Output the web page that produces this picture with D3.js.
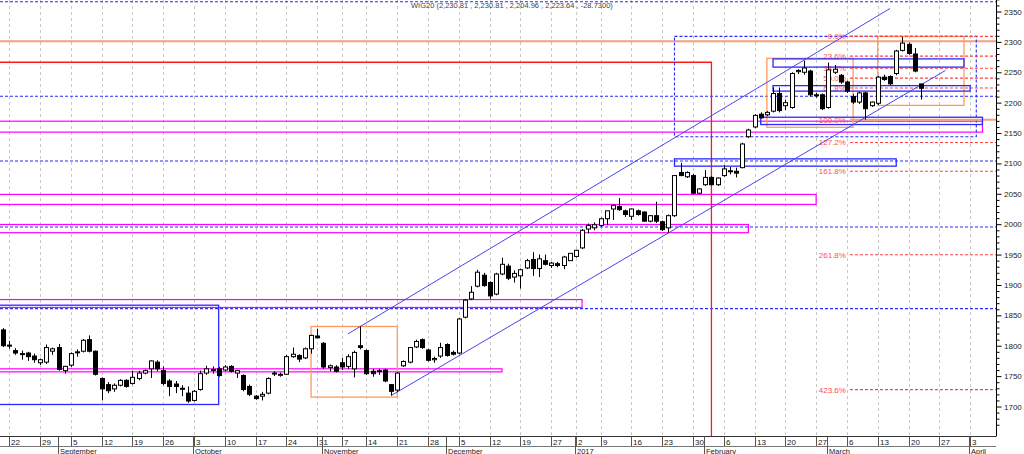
<!DOCTYPE html>
<html>
<head>
<meta charset="utf-8">
<script src="https://cdn.jsdelivr.net/npm/d3@7"></script>
<style>
  body { margin: 0; background: #fff; }
  svg text { font-family: "Liberation Sans", Arial, sans-serif; }
</style>
</head>
<body>
<svg id="plot" width="1024" height="454"></svg>
<script>
// trading sessions shown on the chart (incl. the empty days at the right edge)
let days = [
  "2016-08-19","2016-08-22","2016-08-23","2016-08-24","2016-08-25","2016-08-26","2016-08-29","2016-08-30","2016-08-31",
  "2016-09-01","2016-09-02","2016-09-05","2016-09-06","2016-09-07","2016-09-08","2016-09-09","2016-09-12","2016-09-13",
  "2016-09-14","2016-09-15","2016-09-16","2016-09-19","2016-09-20","2016-09-21","2016-09-22","2016-09-23","2016-09-26",
  "2016-09-27","2016-09-28","2016-09-29","2016-09-30","2016-10-03","2016-10-04","2016-10-05","2016-10-06","2016-10-07",
  "2016-10-10","2016-10-11","2016-10-12","2016-10-13","2016-10-14","2016-10-17","2016-10-18","2016-10-19","2016-10-20",
  "2016-10-21","2016-10-24","2016-10-25","2016-10-26","2016-10-27","2016-10-28","2016-10-31","2016-11-02","2016-11-03",
  "2016-11-04","2016-11-07","2016-11-08","2016-11-09","2016-11-10","2016-11-14","2016-11-15","2016-11-16","2016-11-17",
  "2016-11-18","2016-11-21","2016-11-22","2016-11-23","2016-11-24","2016-11-25","2016-11-28","2016-11-29","2016-11-30",
  "2016-12-01","2016-12-02","2016-12-05","2016-12-06","2016-12-07","2016-12-08","2016-12-09","2016-12-12","2016-12-13",
  "2016-12-14","2016-12-15","2016-12-16","2016-12-19","2016-12-20","2016-12-21","2016-12-22","2016-12-23","2016-12-27",
  "2016-12-28","2016-12-29","2016-12-30","2017-01-02","2017-01-03","2017-01-04","2017-01-05","2017-01-09","2017-01-10",
  "2017-01-11","2017-01-12","2017-01-13","2017-01-16","2017-01-17","2017-01-18","2017-01-19","2017-01-20","2017-01-23",
  "2017-01-24","2017-01-25","2017-01-26","2017-01-27","2017-01-30","2017-01-31","2017-02-01","2017-02-02","2017-02-03",
  "2017-02-06","2017-02-07","2017-02-08","2017-02-09","2017-02-10","2017-02-13","2017-02-14","2017-02-15","2017-02-16",
  "2017-02-17","2017-02-20","2017-02-21","2017-02-22","2017-02-23","2017-02-24","2017-02-27","2017-02-28","2017-03-01",
  "2017-03-02","2017-03-03","2017-03-06","2017-03-07","2017-03-08","2017-03-09","2017-03-10","2017-03-13","2017-03-14",
  "2017-03-15","2017-03-16","2017-03-17","2017-03-20","2017-03-21","2017-03-22","2017-03-23","2017-03-24","2017-03-27",
  "2017-03-28","2017-03-29","2017-03-30","2017-03-31","2017-04-03","2017-04-04","2017-04-05","2017-04-06","2017-04-07"
];

// WIG20 daily candles, one value per session
let open = [1826,1801,1792,1787,1788,1783,1772,1773,1791,1797,1759,1768,1789,1791,1810,1791,1746,1736,1729,1735,
  1743,1738,1746,1755,1762,1773,1759,1742,1737,1730,1722,1710,1728,1755,1760,1762,1760,1766,1755,1751,
  1733,1717,1717,1722,1754,1752,1753,1782,1784,1780,1795,1816,1804,1764,1765,1772,1766,1762,1800,1792,
  1758,1759,1760,1736,1727,1767,1773,1798,1810,1793,1777,1783,1802,1789,1788,1847,1877,1898,1916,1904,
  1885,1918,1931,1913,1915,1928,1942,1927,1940,1932,1935,1932,1940,1947,1961,1992,1994,1998,2009,2025,
  2029,2022,2013,2022,2020,2005,2014,2004,1994,2014,2085,2078,2080,2051,2065,2077,2065,2080,2088,2087,
  2093,2144,2160,2181,2180,2186,2215,2195,2192,2251,2250,2252,2213,2213,2192,2250,2245,2234,2210,2201,
  2216,2195,2199,2242,2243,2248,2286,2296,2280,2230.81];
let high = [1829,1808,1796,1792,1790,1787,1779,1802,1797,1803,1767,1789,1794,1811,1817,1792,1748,1740,1738,1745,
  1745,1759,1759,1761,1776,1776,1766,1745,1742,1735,1733,1727,1759,1767,1766,1765,1768,1768,1760,1753,
  1736,1719,1724,1748,1758,1756,1785,1797,1786,1797,1818,1828,1806,1769,1768,1780,1786,1792,1832,1794,
  1762,1762,1762,1737,1757,1776,1798,1810,1812,1795,1782,1805,1804,1792,1846,1877,1898,1925,1920,1906,
  1920,1945,1935,1924,1927,1943,1954,1950,1950,1938,1938,1948,1950,1958,1992,2001,2003,2011,2011,2032,
  2043,2024,2026,2024,2021,2015,2037,2006,2016,2080,2101,2087,2083,2059,2089,2079,2077,2097,2094,2093,
  2134,2157,2181,2184,2186,2225,2225,2205,2250,2255,2269,2254,2216,2215,2266,2262,2247,2236,2214,2218,
  2218,2202,2244,2246,2245,2287,2308,2299,2290,2230.81];
let low = [1798,1795,1785,1777,1775,1772,1768,1770,1785,1759,1754,1765,1782,1789,1789,1751,1710,1722,1724,1733,
  1731,1736,1743,1753,1747,1758,1735,1717,1722,1717,1706,1708,1726,1752,1754,1749,1758,1756,1747,1725,
  1717,1711,1710,1720,1750,1749,1752,1780,1773,1778,1787,1812,1762,1758,1756,1760,1762,1748,1794,1752,
  1749,1752,1740,1718,1724,1765,1771,1796,1795,1774,1772,1780,1782,1784,1786,1845,1875,1896,1897,1877,
  1883,1916,1908,1904,1894,1926,1915,1913,1932,1928,1929,1926,1940,1945,1959,1985,1990,1995,1998,2007,
  2022,2012,2007,2014,2004,2003,2002,1989,1986,2012,2079,2076,2050,2050,2063,2064,2063,2078,2082,2077,
  2092,2142,2158,2174,2178,2184,2184,2188,2190,2247,2246,2210,2208,2188,2190,2247,2231,2216,2198,2198,
  2172,2193,2196,2236,2229,2245,2284,2279,2250,2204.96];
let close = [1800,1800,1788,1786,1782,1777,1777,1797,1795,1761,1766,1787,1790,1809,1791,1753,1729,1726,1735,1743,
  1733,1748,1755,1759,1775,1762,1738,1733,1733,1729,1709,1725,1754,1762,1761,1751,1765,1758,1759,1728,
  1720,1713,1720,1746,1755,1753,1782,1786,1778,1795,1817,1813,1765,1767,1758,1765,1782,1789,1797,1754,
  1754,1759,1742,1725,1755,1774,1797,1807,1797,1776,1779,1797,1784,1786,1844,1875,1888,1921,1899,1882,
  1918,1934,1911,1919,1925,1940,1927,1943,1934,1936,1932,1946,1952,1957,1990,1998,1999,2009,2022,2031,
  2024,2016,2025,2016,2005,2014,2005,1991,2014,2080,2080,2085,2051,2058,2077,2065,2076,2091,2088,2084,
  2132,2155,2179,2175,2184,2215,2187,2200,2248,2253,2257,2213,2213,2190,2254,2255,2234,2219,2201,2216,
  2190,2201,2242,2238,2231,2285,2298,2281,2252,2223.64];

let yTicks = [1700,1750,1800,1850,1900,1950,2000,2050,2100,2150,2200,2250,2300,2350];
let title = "WIG20 (2,230.81 , 2,230.81 , 2,204.96 , 2,223.64 , -28.7300)";

// drawn studies: horizontal levels, boxes, channel, fibonacci
let dottedLevels = [2366, 2210.5, 2104, 1995.5, 1861];
let magentaBands = [[1762, 1757], [1876, 1863], [1999.5, 1986], [2049, 2032.5], [2169.5, 2151.5]];
let magentaEnds = ["2016-12-14", "2017-01-03", "2017-02-10", "2017-02-27", "2017-04-05"];
let blueBoxes = [
  ["2016-08-01", "2016-10-07", 1866.7, 1703.3],
  ["2017-01-25", "2017-03-16", 2107.5, 2095.5],
  ["2017-02-14", "2017-04-05", 2176, 2164],
  ["2017-02-16", "2017-03-31", 2272, 2258.5],
  ["2017-02-16", "2017-04-03", 2228, 2219]
];
let orangeBoxes = [
  ["2016-10-28", "2016-11-21", 1831.7, 1715.5],
  ["2017-02-15", "2017-03-07", 2273, 2159.5],
  ["2017-03-13", "2017-03-31", 2309, 2195.5]
];
let dottedBox = ["2017-01-25", "2017-04-04", 2309, 2144];
let redLine = ["2017-02-02", 2266.5];
let salmonLevel = 2301;
let channelUpper = [["2016-11-08", 1819.6], ["2017-03-15", 2355]];
let channelLower = [["2016-11-18", 1718], ["2017-03-28", 2253]];
let fibHigh = 2309, fibLow = 2171.8;
let fibRatios = [0, 0.236, 0.382, 0.5, 0.618, 1, 1.272, 1.618, 2.618, 4.236];
let fibStart = "2017-03-06";

let svg = d3.select("#plot");
let W = 1024, H = 454;
let plotRight = 996, plotBottom = 436.5;

let x = d3.scaleLinear().domain([-0.5, 161.2]).range([0, plotRight]);
let y = d3.scaleLinear().domain([1700, 2350]).range([406.5, 11.5]);
let pos = (d) => {
  let i = days.indexOf(d);
  if (i < 0) return d < days[0] ? -6 : plotRight;
  return x(i);
};
let px = (v) => Math.round(v) + 0.5;

svg.append("defs").append("clipPath").attr("id", "clip")
  .append("rect").attr("x", 0).attr("y", 0).attr("width", plotRight).attr("height", plotBottom);

let plot = svg.append("g").attr("clip-path", "url(#clip)");

// weekly ticks = first session of each week, month ticks = first session of each month
let parse = d3.timeParse("%Y-%m-%d");
let weekTicks = [], monthTicks = [];
days.forEach((d, i) => {
  let t = parse(d), p = i > 0 ? parse(days[i - 1]) : null;
  if (!p || d3.timeMonday.floor(t) > p) weekTicks.push(i);
  if (!p || t.getMonth() != p.getMonth()) monthTicks.push(i);
});
weekTicks = weekTicks.filter(i => i > 0);
monthTicks = monthTicks.filter(i => i > 0);

// vertical grid
plot.append("g").selectAll("line").data(weekTicks).join("line")
  .attr("x1", d => px(x(d))).attr("x2", d => px(x(d)))
  .attr("y1", 0).attr("y2", plotBottom)
  .attr("stroke", "#c8c8c8").attr("stroke-dasharray", "3,3");

// full width dotted levels
plot.append("g").selectAll("line").data(dottedLevels).join("line")
  .attr("x1", 0).attr("x2", plotRight)
  .attr("y1", d => y(d)).attr("y2", d => y(d))
  .attr("stroke", "#2a2aff").attr("stroke-width", 1.1).attr("stroke-dasharray", "3,2");

// magenta bands
plot.append("g").selectAll("rect").data(magentaBands).join("rect")
  .attr("x", -2).attr("width", (d, i) => pos(magentaEnds[i]) + 2)
  .attr("y", d => y(d[0])).attr("height", d => y(d[1]) - y(d[0]))
  .attr("fill", "none").attr("stroke", "#ff00ff").attr("stroke-width", 1.2);

// salmon level
plot.append("line").attr("x1", 0).attr("x2", plotRight)
  .attr("y1", y(salmonLevel)).attr("y2", y(salmonLevel))
  .attr("stroke", "#f4a07a").attr("stroke-width", 2);

// red line
plot.append("path")
  .attr("d", `M0,${y(redLine[1])}H${pos(redLine[0])}V${plotBottom}`)
  .attr("fill", "none").attr("stroke", "#ff1a1a").attr("stroke-width", 1.3);

// dotted box
plot.append("rect")
  .attr("x", pos(dottedBox[0])).attr("width", pos(dottedBox[1]) - pos(dottedBox[0]))
  .attr("y", y(dottedBox[2])).attr("height", y(dottedBox[3]) - y(dottedBox[2]))
  .attr("fill", "none").attr("stroke", "#2a2aff").attr("stroke-width", 1.1).attr("stroke-dasharray", "3,2");

// orange boxes
plot.append("g").selectAll("rect").data(orangeBoxes).join("rect")
  .attr("x", d => pos(d[0])).attr("width", d => pos(d[1]) - pos(d[0]))
  .attr("y", d => y(d[2])).attr("height", d => y(d[3]) - y(d[2]))
  .attr("fill", "none").attr("stroke", "#ff9a5c").attr("stroke-width", 1.3);

// fibonacci
let fib = plot.append("g");
fibRatios.forEach(r => {
  let v = fibHigh - r * (fibHigh - fibLow);
  fib.append("line").attr("x1", pos(fibStart) + 3).attr("x2", plotRight)
    .attr("y1", y(v)).attr("y2", y(v))
    .attr("stroke", r == 1 ? "#f4a07a" : "#ff4040")
    .attr("stroke-width", r == 1 ? 2 : 1.1)
    .attr("stroke-dasharray", r == 1 ? null : "3,2");
  fib.append("text").attr("x", pos(fibStart) - 1).attr("y", y(v) + 3)
    .attr("text-anchor", "end").attr("font-size", 8).attr("fill", "#ff5050")
    .text((r * 100).toFixed(1) + "%");
});

// blue boxes
plot.append("g").selectAll("rect").data(blueBoxes).join("rect")
  .attr("x", d => pos(d[0])).attr("width", d => pos(d[1]) - pos(d[0]))
  .attr("y", d => y(d[2])).attr("height", d => y(d[3]) - y(d[2]))
  .attr("fill", "none").attr("stroke", "#2a2aff").attr("stroke-width", 1.3);

// trend channel
[channelUpper, channelLower].forEach(c => {
  plot.append("line")
    .attr("x1", pos(c[0][0])).attr("y1", y(c[0][1]))
    .attr("x2", pos(c[1][0])).attr("y2", y(c[1][1]))
    .attr("stroke", "#4646f0").attr("stroke-width", 1);
});

// candles
let candles = open.map((o, i) => ({ i: i, o: o, h: high[i], l: low[i], c: close[i] }));
let cg = plot.append("g");
cg.selectAll("line").data(candles).join("line")
  .attr("x1", d => px(x(d.i))).attr("x2", d => px(x(d.i)))
  .attr("y1", d => y(d.h)).attr("y2", d => y(d.l))
  .attr("stroke", "#000");
cg.selectAll("rect").data(candles).join("rect")
  .attr("x", d => Math.round(x(d.i)) - 1.5).attr("width", 4)
  .attr("y", d => y(Math.max(d.o, d.c)))
  .attr("height", d => Math.max(1, Math.abs(y(d.o) - y(d.c))))
  .attr("fill", d => d.c >= d.o ? "#fff" : "#000")
  .attr("stroke", "#000").attr("stroke-width", 1);

// right price axis
let yAxis = d3.axisRight(y).tickValues(d3.range(1670, 2371, 10)).tickSize(3).tickFormat("");
svg.append("g").attr("transform", `translate(${plotRight + 0.5},0)`).call(yAxis)
  .call(g => g.select(".domain").attr("d", `M0,0V${plotBottom}`))
  .call(g => g.selectAll(".tick line").attr("x2", d => d % 50 == 0 ? 5 : 3));
svg.append("g").selectAll("text").data(yTicks).join("text")
  .attr("x", 1004).attr("y", d => y(d) + 3)
  .attr("font-size", 8).attr("fill", "#222").text(d => d);

// bottom date axis
let ax = svg.append("g");
ax.append("line").attr("x1", 0).attr("x2", plotRight).attr("y1", plotBottom).attr("y2", plotBottom).attr("stroke", "#333");
ax.append("line").attr("x1", 0).attr("x2", plotRight).attr("y1", 446.5).attr("y2", 446.5).attr("stroke", "#777");
ax.selectAll(".wk").data(weekTicks).join("line")
  .attr("x1", d => px(x(d))).attr("x2", d => px(x(d)))
  .attr("y1", plotBottom).attr("y2", 446).attr("stroke", "#555");
ax.selectAll(".wkl").data(weekTicks).join("text")
  .attr("x", d => Math.round(x(d)) + 2).attr("y", 444.5)
  .attr("font-size", 8).attr("fill", "#222")
  .text(d => parse(days[d]).getDate());
let monthName = d3.timeFormat("%B");
ax.selectAll(".mo").data(monthTicks).join("line")
  .attr("x1", d => Math.round(x(d)) - 0.5).attr("x2", d => Math.round(x(d)) - 0.5)
  .attr("y1", plotBottom).attr("y2", H).attr("stroke", "#555");
ax.selectAll(".mol").data(monthTicks).join("text")
  .attr("x", d => Math.round(x(d)) + 1).attr("y", 453.5)
  .attr("font-size", 7.5).attr("fill", "#222")
  .text(d => { let t = parse(days[d]); return t.getMonth() == 0 ? t.getFullYear() : monthName(t); });

// title
svg.append("text").attr("x", 411).attr("y", 7.5).attr("font-size", 7.5).attr("fill", "#444").text(title);
</script>
</body>
</html>
